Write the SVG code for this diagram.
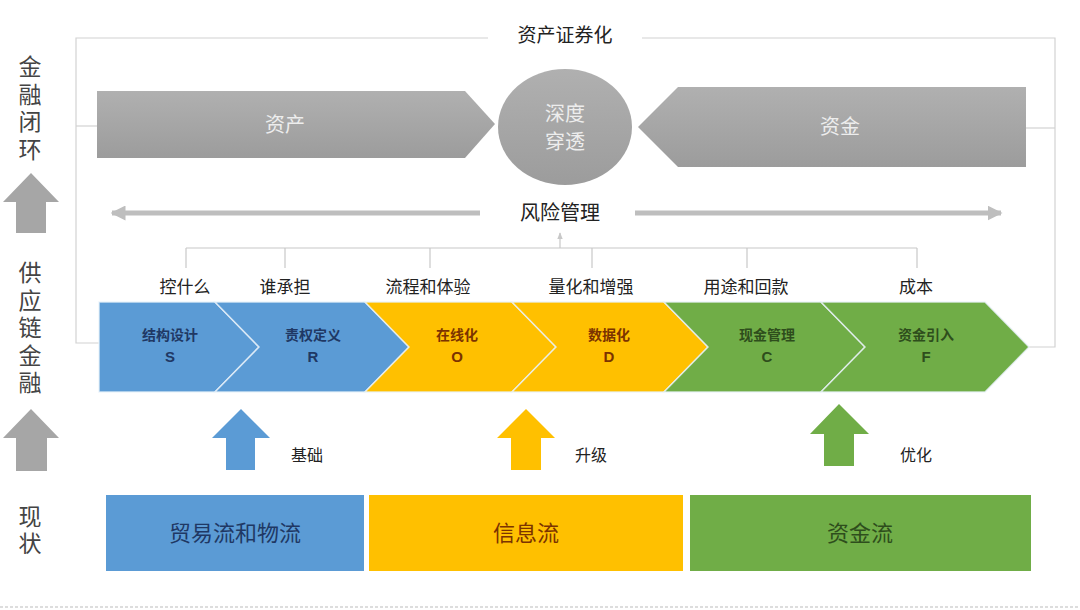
<svg xmlns="http://www.w3.org/2000/svg" width="1080" height="610" viewBox="0 0 1080 610">
<defs>
<linearGradient id="gg" x1="0" y1="0" x2="0" y2="1">
<stop offset="0" stop-color="#B0B0B0"/><stop offset="1" stop-color="#9C9C9C"/>
</linearGradient>
<marker id="ah" viewBox="0 0 10 10" refX="9" refY="5" markerWidth="3" markerHeight="3" orient="auto"><path d="M0,0 L10,5 L0,10 z" fill="#BEBEBE"/></marker>
<marker id="sa" viewBox="0 0 10 10" refX="9" refY="5" markerWidth="6" markerHeight="6" orient="auto"><path d="M0,1 L10,5 L0,9 z" fill="#C8C8C8"/></marker>
</defs>
<style>
text{font-family:"Noto Sans CJK SC","Noto Sans",sans-serif}
.frame{fill:none;stroke:#D2D2D2;stroke-width:1.2}
.tree{fill:none;stroke:#C8C8C8;stroke-width:1.2}
.side{font-size:23px;fill:#444;text-anchor:middle;writing-mode:vertical-rl;letter-spacing:4.5px}
.lbl{font-size:17px;fill:#222;text-anchor:middle}
.gtxt{font-size:20px;fill:#EDEDED;text-anchor:middle}
.chev{stroke:#EAF2FA;stroke-width:1.5;stroke-opacity:0.8}
.ct{font-size:14px;font-weight:bold;text-anchor:middle}
.cl{font-size:15px;font-weight:bold;text-anchor:middle;font-family:"Liberation Sans",sans-serif}
.blue{fill:#5B9BD5}.yel{fill:#FFC000}.grn{fill:#70AD47}
.tb{fill:#1F3864}.ty{fill:#7B3300}.tg{fill:#2E4D1C}
.box{font-size:22px;text-anchor:middle}
.up{font-size:16px;fill:#222;text-anchor:middle}
.garrow{fill:#A6A6A6}
.rline{stroke:#BEBEBE;stroke-width:5;fill:none}
</style>
<rect width="1080" height="610" fill="#FFFFFF"/>

<g id="connectors">
<path class="frame" d="M488,38 H76 V343 H99"/>
<path class="frame" d="M642,38 H1055 V347 H1029"/>
<path class="frame" d="M76,126 H97"/>
<path class="frame" d="M1026,128 H1055"/>
<path class="tree" d="M186,248 H917 M186,248 V268 M285,248 V268 M430,248 V268 M592,248 V268 M747,248 V268 M917,248 V268"/>
<line class="tree" x1="560" y1="248" x2="560" y2="233" marker-end="url(#sa)"/>
<line class="rline" x1="480" y1="213" x2="112" y2="213" marker-end="url(#ah)"/>
<line class="rline" x1="635" y1="213" x2="1001" y2="213" marker-end="url(#ah)"/>
</g>

<g id="title"><text x="565" y="42" style="font-size:19px;fill:#222;text-anchor:middle">资产证券化</text></g>

<g id="asset">
<polygon points="97,91 465,91 495,124 465,158 97,158" fill="url(#gg)"/>
<text class="gtxt" x="285" y="132">资产</text>
</g>
<g id="penetrate">
<ellipse cx="565" cy="127" rx="67" ry="58" fill="url(#gg)"/>
<text class="gtxt" x="565" y="121">深度</text>
<text class="gtxt" x="565" y="149">穿透</text>
</g>
<g id="funds">
<polygon points="638,127 678,87 1026,87 1026,167 678,167" fill="url(#gg)"/>
<text class="gtxt" x="840" y="134">资金</text>
</g>

<g id="risk"><text x="560" y="220" style="font-size:20px;fill:#222;text-anchor:middle">风险管理</text></g>

<g id="side-labels">
<text class="side" x="30" y="110">金融闭环</text>
<polygon class="garrow" points="31,173 59,202 46,202 46,233 16,233 16,202 3,202"/>
<text class="side" x="30" y="330">供应链金融</text>
<polygon class="garrow" points="31,409 59,438 47,438 47,471 16,471 16,438 3,438"/>
<text class="side" x="30" y="532">现状</text>
</g>

<g id="top-labels">
<text class="lbl" x="185" y="293">控什么</text>
<text class="lbl" x="285" y="293">谁承担</text>
<text class="lbl" x="428" y="293">流程和体验</text>
<text class="lbl" x="591" y="293">量化和增强</text>
<text class="lbl" x="746" y="293">用途和回款</text>
<text class="lbl" x="916" y="293">成本</text>
</g>

<g id="chev-S"><polygon class="blue chev" points="99,302 215,302 259,347 215,392 99,392"/>
<text class="ct tb" x="170" y="340">结构设计</text><text class="cl tb" x="170" y="362">S</text></g>
<g id="chev-R"><polygon class="blue chev" points="215,302 365,302 409,347 365,392 215,392 259,347"/>
<text class="ct tb" x="313" y="340">责权定义</text><text class="cl tb" x="313" y="362">R</text></g>
<g id="chev-O"><polygon class="yel chev" points="365,302 512,302 556,347 512,392 365,392 409,347"/>
<text class="ct ty" x="457" y="340">在线化</text><text class="cl ty" x="457" y="362">O</text></g>
<g id="chev-D"><polygon class="yel chev" points="512,302 664,302 708,347 664,392 512,392 556,347"/>
<text class="ct ty" x="609" y="340">数据化</text><text class="cl ty" x="609" y="362">D</text></g>
<g id="chev-C"><polygon class="grn chev" points="664,302 821,302 865,347 821,392 664,392 708,347"/>
<text class="ct tg" x="767" y="340">现金管理</text><text class="cl tg" x="767" y="362">C</text></g>
<g id="chev-F"><polygon class="grn chev" points="821,302 985,302 1029,347 985,392 821,392 865,347"/>
<text class="ct tg" x="926" y="340">资金引入</text><text class="cl tg" x="926" y="362">F</text></g>

<g id="up-blue"><polygon class="blue" points="241,409 270,438 255,438 255,470 226,470 226,438 212,438"/><text class="up" x="307" y="461">基础</text></g>
<g id="up-yellow"><polygon class="yel" points="526,409 555,438 541,438 541,470 511,470 511,438 497,438"/><text class="up" x="591" y="461">升级</text></g>
<g id="up-green"><polygon class="grn" points="839,404 869,434 854,434 854,466 824,466 824,434 810,434"/><text class="up" x="916" y="461">优化</text></g>

<g id="box-trade"><rect class="blue" x="106" y="495" width="258" height="76"/><text class="box tb" x="235" y="541">贸易流和物流</text></g>
<g id="box-info"><rect class="yel" x="369" y="495" width="314" height="76"/><text class="box ty" x="526" y="541">信息流</text></g>
<g id="box-cash"><rect class="grn" x="690" y="495" width="341" height="76"/><text class="box tg" x="860" y="541">资金流</text></g>

<line x1="0" y1="607" x2="1080" y2="607" stroke="#DDDDDD" stroke-width="2" stroke-dasharray="3 2"/>
</svg>
